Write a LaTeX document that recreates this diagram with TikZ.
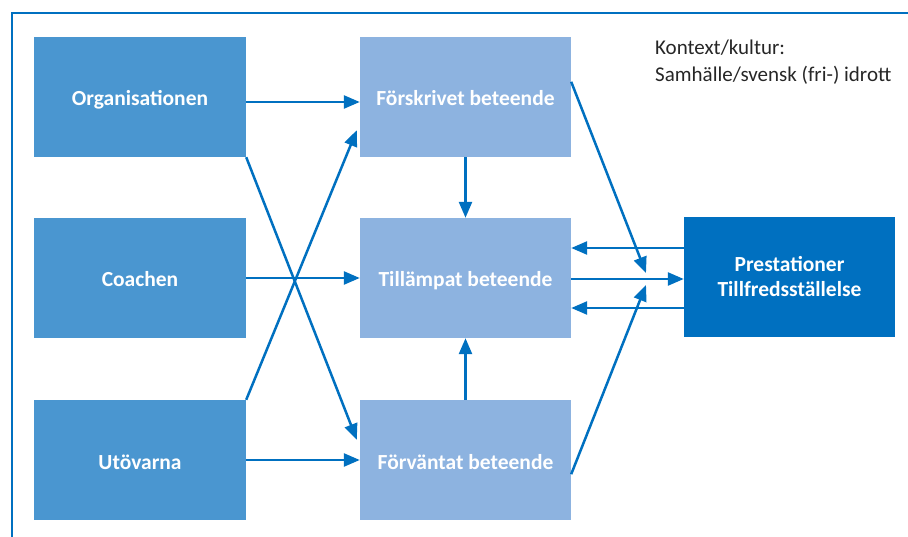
\documentclass[tikz,border=0pt]{standalone}
\usepackage{fontspec}
\setmainfont{Carlito}
\usetikzlibrary{arrows.meta,calc}
\definecolor{darkblue}{HTML}{0070C0}
\definecolor{midblue}{HTML}{4A96D0}
\definecolor{lightblue}{HTML}{8DB3E0}
\tikzset{
  basebox/.style={draw=none, minimum width=212pt, minimum height=120pt, inner sep=0pt,
    text=white, font=\fontsize{21.5}{25}\selectfont\bfseries},
  srcbox/.style={basebox, fill=midblue, text height=18pt, text depth=0pt},
  behbox/.style={srcbox, fill=lightblue, minimum width=211pt},
  resbox/.style={basebox, fill=darkblue, minimum width=211pt, align=center},
  conn/.style={draw=darkblue, line width=2.5pt, -{Triangle[length=16pt,width=13pt]}},
  frame/.style={draw=darkblue, line width=2.5pt},
  ctx/.style={align=left, inner sep=0pt, text=black!85, font=\fontsize{21}{27}\selectfont}
}
\begin{document}
\begin{tikzpicture}[x=1pt,y=-1pt]
\useasboundingbox (0,0) rectangle (908,537);
\draw[frame] (12,537) -- (12,13) -- (908,13);

\node[srcbox] (org) at (140,97) {Organisationen};
\node[srcbox] (coach) at (140,278) {Coachen};
\node[srcbox] (utov) at (140,460) {Utövarna};

\node[behbox] (forsk) at (465.5,97) {Förskrivet beteende};
\node[behbox] (till) at (465.5,278) {Tillämpat beteende};
\node[behbox] (forv) at (465.5,460) {Förväntat beteende};

\node[resbox] (pres) at (789.5,277) {Prestationer\\Tillfredsställelse};

\node[ctx, anchor=north west] (ctxt) at (655,40) {Kontext/kultur:\\Samhälle/svensk (fri-) idrott};

\coordinate (m1) at (646,273);
\coordinate (m2) at (646,285);

\draw[conn] ($(org.east)+(0,5)$) -- ($(forsk.west)+(0,5)$);
\draw[conn] (coach.east) -- (till.west);
\draw[conn] (utov.east) -- (forv.west);
\draw[conn] (org.south east) -- ($(forv.north west)+(-3,40)$);
\draw[conn] (utov.north east) -- ($(forsk.south west)+(-3,-27)$);
\draw[conn] (forsk.south) -- (till.north);
\draw[conn] (forv.north) -- (till.south);
\draw[conn] ($(forsk.north east)+(0,45)$) -- (m1);
\draw[conn] ($(forv.south east)+(0,-46)$) -- (m2);
\draw[conn] ($(till.east)+(0,1)$) -- ($(pres.west)+(0,2)$);
\draw[conn] ($(pres.west)+(0,-29)$) -- ($(till.east)+(0,-30)$);
\draw[conn] ($(pres.west)+(0,31)$) -- ($(till.east)+(0,30)$);
\end{tikzpicture}
\end{document}
